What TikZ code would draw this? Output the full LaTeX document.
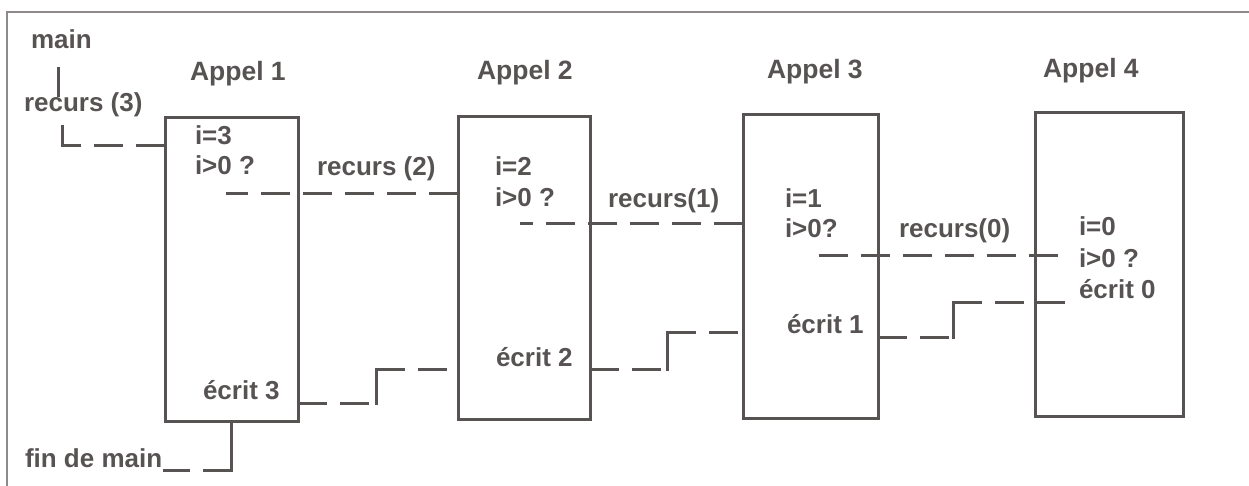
\documentclass[tikz,border=0pt]{standalone}
\usepackage{fontspec}
\setmainfont{Liberation Sans}
\definecolor{ink}{HTML}{585353}
\definecolor{framec}{HTML}{8E8A8A}
\begin{document}
\begin{tikzpicture}[x=1pt,y=-1pt,
  callbox/.style={draw=ink, line width=3pt, inner sep=0pt, outer sep=0pt},
  lbl/.style={anchor=base west, inner sep=0pt, outer sep=0pt, text=ink,
    font=\bfseries\fontsize{26}{30}\selectfont},
  ttl/.style={lbl, font=\bfseries\fontsize{26.5}{30}\selectfont},
  dashline/.style={draw=ink, line width=3pt, dash pattern=on 29pt off 13pt},
  plainline/.style={draw=ink, line width=3pt, line cap=rect},
  framel/.style={draw=framec, line width=1.2pt}]
\useasboundingbox (0,0) rectangle (1249,486);

% frame (top and left only)
\coordinate (fbl) at (7,486);
\coordinate (ftl) at (7,12);
\coordinate (ftr) at (1249,12);
\draw[framel] (fbl) -- (ftl) -- (ftr);

% boxes
\node[callbox, minimum width=133pt, minimum height=303pt] (b1) at (231.5,269.5) {};
\node[callbox, minimum width=132pt, minimum height=302pt] (b2) at (524,268) {};
\node[callbox, minimum width=135pt, minimum height=303pt] (b3) at (810.5,266.5) {};
\node[callbox, minimum width=148pt, minimum height=303pt] (b4) at (1109,264.5) {};

% titles
\node[ttl] (a1) at (190,81) {Appel 1};
\node[ttl] (a2) at (477,80) {Appel 2};
\node[ttl] (a3) at (767,79) {Appel 3};
\node[ttl] (a4) at (1043,78) {Appel 4};

% labels
\node[lbl] (tmain) at (31,49) {main};
\node[lbl] (tr3) at (24,112) {recurs (3)};
\node[lbl] (i3) at (195,145) {i=3};
\node[lbl] (q3) at (195,175) {i>0 ?};
\node[lbl] (tr2) at (317,176) {recurs (2)};
\node[lbl] (i2) at (495,176) {i=2};
\node[lbl] (q2) at (495,207) {i>0 ?};
\node[lbl] (tr1) at (608,208) {recurs(1)};
\node[lbl] (i1) at (785,208) {i=1};
\node[lbl] (q1) at (785,237) {i>0?};
\node[lbl] (tr0) at (899,237) {recurs(0)};
\node[lbl] (i0) at (1079,236) {i=0};
\node[lbl] (q0) at (1079,267) {i>0 ?};
\node[lbl] (e0) at (1079,298) {écrit 0};
\node[lbl] (e1) at (787,333) {écrit 1};
\node[lbl] (e2) at (496,366) {écrit 2};
\node[lbl] (e3) at (203,399) {écrit 3};
\node[lbl] (fin) at (25,467) {fin de main};

% main -> recurs (3)
\coordinate (m1) at (58,67);
\coordinate (m2) at (58,97);
\draw[draw=ink, line width=3pt] (m1) -- (m2);

% recurs(3) -> box 1
\coordinate (r3top) at (62,127);
\coordinate (r3c) at (62,146);
\draw[dashline] (b1.west |- r3c) -- (r3c);
\draw[plainline] (r3c) -- (r3top);

% calls
\coordinate (s1) at (226,194);
\draw[dashline] (b2.west |- s1) -- (s1);
\coordinate (s2) at (520,224);
\draw[dashline] (b3.west |- s2) -- (s2);
\coordinate (s3) at (808,255);
\coordinate (s3e) at (1058,255);
\draw[dashline] (s3e) -- (s3);

% returns
\coordinate (t4) at (1065,302);
\coordinate (k4) at (953,302);
\coordinate (k4b) at (953,337);
\draw[dashline] (b3.east |- k4b) -- (k4b);
\draw[plainline] (k4b) -- (k4);
\draw[dashline] (k4) -- (t4);

\coordinate (k3) at (667,332);
\coordinate (k3b) at (667,369);
\draw[dashline] (b2.east |- k3b) -- (k3b);
\draw[plainline] (k3b) -- (k3);
\draw[dashline] (k3) -- (b3.west |- k3);

\coordinate (k2) at (376,369);
\coordinate (k2b) at (376,403);
\draw[dashline] (b1.east |- k2b) -- (k2b);
\draw[plainline] (k2b) -- (k2);
\draw[dashline] (k2) -- (b2.west |- k2);

% box 1 -> fin de main
\coordinate (fc) at (231.5,470);
\coordinate (fe) at (163,470);
\draw[plainline] (b1.south) -- (fc);
\draw[dashline] (fc) -- (fe);
\end{tikzpicture}
\end{document}
